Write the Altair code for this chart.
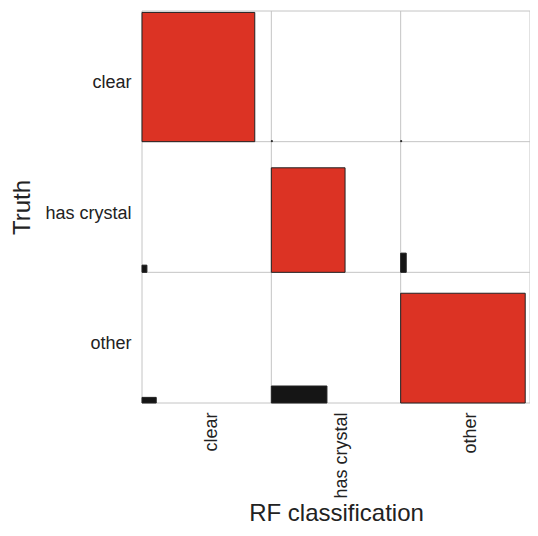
import altair as alt
import pandas as pd

# categories
truth_classes = ["clear", "has crystal", "other"]
pred_classes = ["clear", "has crystal", "other"]

# rectangle width (share of cell) for each truth row / predicted column
width_frac = [
    [0.872, 0.008, 0.008],
    [0.038, 0.570, 0.043],
    [0.110, 0.430, 0.963],
]
# rectangle height (share of cell) for each truth row / predicted column
height_frac = [
    [0.989, 0.008, 0.008],
    [0.055, 0.800, 0.147],
    [0.043, 0.130, 0.840],
]

grid_values = [0, 1, 2, 3]

rows = []
n = len(truth_classes)
for i, t in enumerate(truth_classes):
    for j, p in enumerate(pred_classes):
        x0 = j
        y0 = (n - 1) - i
        rows.append({
            "truth": t, "pred": p,
            "x": x0, "x2": x0 + width_frac[i][j],
            "y": y0, "y2": y0 + height_frac[i][j],
            "kind": "correct" if i == j else "wrong",
        })
df = pd.DataFrame(rows)
grid_df = pd.DataFrame({"g": grid_values})

font = "Liberation Sans"
x_label_expr = str(pred_classes) + "[floor(datum.value)]"
y_label_expr = str(list(reversed(truth_classes))) + "[floor(datum.value)]"

xscale = alt.Scale(domain=[0, 3], nice=False, zero=False)
yscale = alt.Scale(domain=[0, 3], nice=False, zero=False)

x_axis = alt.Axis(
    values=[0.5, 1.5, 2.5], labelExpr=x_label_expr, title="RF classification",
    grid=False, ticks=False, domain=False, labelAngle=270, labelAlign="right",
    labelBaseline="middle", labelPadding=9, labelOffset=5, labelFontSize=18,
    labelFont=font, labelColor="#222222", titleFont=font, titleFontSize=24,
    titleFontWeight="normal", titleColor="#222222", titlePadding=3,
)
y_axis = alt.Axis(
    values=[0.5, 1.5, 2.5], labelExpr=y_label_expr, title="Truth",
    grid=False, ticks=False, domain=False, labelAlign="right",
    labelBaseline="middle", labelPadding=11, labelOffset=6, labelFontSize=18,
    labelFont=font, labelColor="#222222", titleFont=font, titleFontSize=24,
    titleFontWeight="normal", titleColor="#222222", titlePadding=10,
)

vgrid = alt.Chart(grid_df).mark_rule(color="#c4c4c4", strokeWidth=1).encode(
    x=alt.X("g:Q", scale=xscale, axis=x_axis)
)
hgrid = alt.Chart(grid_df).mark_rule(color="#c4c4c4", strokeWidth=1).encode(
    y=alt.Y("g:Q", scale=yscale, axis=y_axis)
)

bars = alt.Chart(df).mark_rect(stroke="#222222", strokeWidth=1).encode(
    x=alt.X("x:Q", scale=xscale, axis=x_axis),
    x2="x2:Q",
    y=alt.Y("y:Q", scale=yscale, axis=y_axis),
    y2="y2:Q",
    color=alt.Color("kind:N", scale=alt.Scale(domain=["correct", "wrong"],
                                               range=["#dc3324", "#151515"]),
                    legend=None),
)

chart = alt.layer(vgrid, hgrid, bars).properties(
    width=388, height=392,
    autosize=alt.AutoSizeParams(type="none"),
    padding={"left": 134, "top": 3, "right": 0, "bottom": 125},
).configure_view(stroke=None)

chart.save("out.html", embed_options={"renderer": "svg", "actions": False})
